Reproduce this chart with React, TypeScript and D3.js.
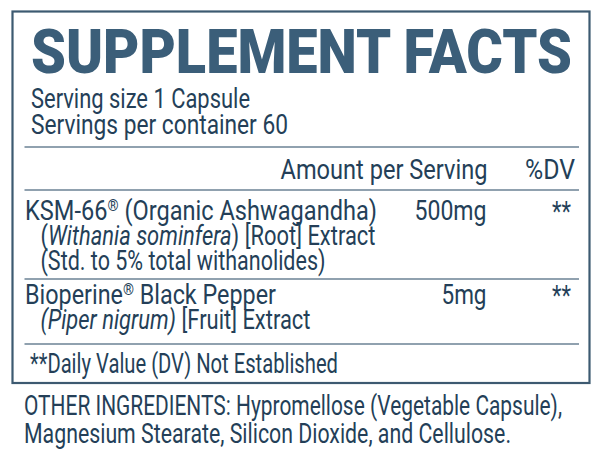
import React from "react";
import * as d3 from "d3";

const title = "SUPPLEMENT FACTS";
const servingInfo = ["Serving size 1 Capsule", "Servings per container 60"];
const headerLabels = ["Amount per Serving", "%DV"];
const ingredientNames = ["KSM-66® (Organic Ashwagandha)", "Bioperine® Black Pepper"];
const ingredientAmounts = ["500mg", "5mg"];
const ingredientDV = ["**", "**"];
// each detail line is a list of [text, italic] segments
const ingredientDetails: [string, boolean][][][] = [
  [
    [["(", false], ["Withania sominfera", true], [") [Root] Extract", false]],
    [["(Std. to 5% total withanolides)", false]],
  ],
  [[["(Piper nigrum)", true], [" [Fruit] Extract", false]]],
];
const footnote = "**Daily Value (DV) Not Established";
const otherIngredients = [
  "OTHER INGREDIENTS: Hypromellose (Vegetable Capsule),",
  "Magnesium Stearate, Silicon Dioxide, and Cellulose.",
];

// layout (pixel geometry only)
const W = 600;
const H = 470;
const TITLE_COLOR = "#3b5e79";
const TEXT_COLOR = "#243f58";
const RULE_COLOR = "#6b8294";
const FONT = "Roboto, 'Noto Sans', sans-serif";
const FS = 27;

const servingWidths = [219, 257];
const nameWidths = [352, 251];
const detailWidths = [[335, 285], [270]];
const otherWidths = [538, 487];

export default function App() {
  const x = d3.scaleLinear().domain([0, 1]).range([24.5, 579]);
  const ruleYs = [147, 190, 279, 344];
  const rowBase = [219.5, 304];
  const lineStep = 25;

  const renderName = (s: string) => {
    const parts = s.split("®");
    const out: React.ReactNode[] = [];
    parts.forEach((p, i) => {
      out.push(
        <tspan key={"p" + i} dy={i > 0 ? 9 : 0}>
          {p}
        </tspan>
      );
      if (i < parts.length - 1) {
        out.push(
          <tspan key={"r" + i} fontSize={FS * 0.6} dy={-9}>
            ®
          </tspan>
        );
      }
    });
    return out;
  };

  return (
    <svg
      width={W}
      height={H}
      viewBox={`0 0 ${W} ${H}`}
      style={{ position: "absolute", left: 0, top: 0, background: "#fff" }}
      fontFamily={FONT}
    >
      <rect x={0} y={0} width={W} height={H} fill="#fff" />
      <rect x={12.5} y={11.5} width={577} height={371.5} fill="none" stroke="#3d5a71" strokeWidth={2.2} />
      <text
        x={31}
        y={73}
        fontSize={62}
        fontWeight={900}
        fill={TITLE_COLOR}
        textLength={541}
        lengthAdjust="spacingAndGlyphs"
      >
        {title}
      </text>
      {servingInfo.map((s, i) => (
        <text
          key={s}
          x={31}
          y={107.5 + i * 26.5}
          fontSize={FS}
          fill={TEXT_COLOR}
          textLength={servingWidths[i]}
          lengthAdjust="spacingAndGlyphs"
        >
          {s}
        </text>
      ))}
      {ruleYs.map((y, i) => (
        <line key={i} x1={x(0)} x2={x(1)} y1={y} y2={y} stroke={RULE_COLOR} strokeWidth={1.6} />
      ))}
      <text x={487.5} y={178.5} fontSize={FS} fill={TEXT_COLOR} textAnchor="end" textLength={207} lengthAdjust="spacingAndGlyphs">
        {headerLabels[0]}
      </text>
      <text x={575} y={178.5} fontSize={FS} fill={TEXT_COLOR} textAnchor="end" textLength={50} lengthAdjust="spacingAndGlyphs">
        {headerLabels[1]}
      </text>
      {ingredientNames.map((n, i) => (
        <g key={n}>
          <text
            x={25}
            y={rowBase[i]}
            fontSize={FS}
            fill={TEXT_COLOR}
            textLength={nameWidths[i]}
            lengthAdjust="spacingAndGlyphs"
          >
            {renderName(n)}
          </text>
          <text x={486.5} y={rowBase[i]} fontSize={FS} fill={TEXT_COLOR} textAnchor="end" textLength={i === 0 ? 72 : 45} lengthAdjust="spacingAndGlyphs">
            {ingredientAmounts[i]}
          </text>
          <text x={571} y={rowBase[i] + 1} fontSize={FS} fill={TEXT_COLOR} textAnchor="end" textLength={19} lengthAdjust="spacingAndGlyphs">
            {ingredientDV[i]}
          </text>
          {ingredientDetails[i].map((segs, j) => (
            <text
              key={j}
              x={40.5}
              y={rowBase[i] + (j + 1) * lineStep}
              fontSize={FS}
              fill={TEXT_COLOR}
              textLength={detailWidths[i][j]}
              lengthAdjust="spacingAndGlyphs"
            >
              {segs.map(([t, it], k) => (
                <tspan key={k} fontStyle={it ? "italic" : "normal"}>
                  {t}
                </tspan>
              ))}
            </text>
          ))}
        </g>
      ))}
      <text x={30} y={372.5} fontSize={FS} fill={TEXT_COLOR} textLength={308} lengthAdjust="spacingAndGlyphs">
        {footnote}
      </text>
      {otherIngredients.map((s, i) => (
        <text
          key={s}
          x={24}
          y={414.5 + i * 28}
          fontSize={FS}
          fill={TEXT_COLOR}
          textLength={otherWidths[i]}
          lengthAdjust="spacingAndGlyphs"
        >
          {s}
        </text>
      ))}
    </svg>
  );
}
